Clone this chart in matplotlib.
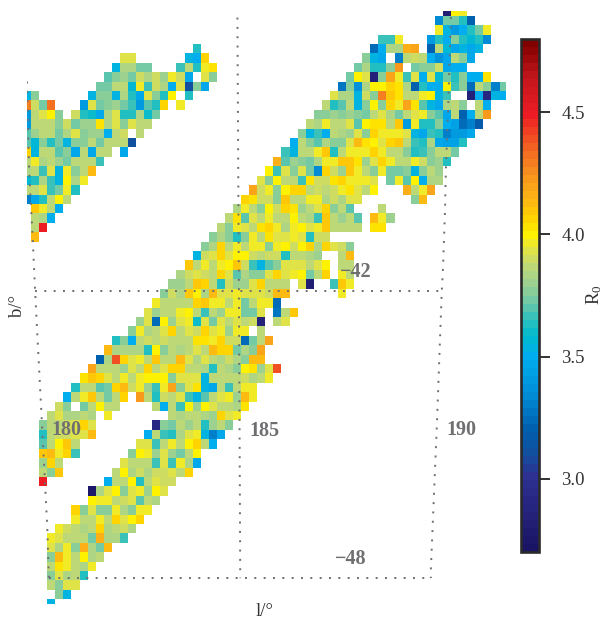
'''
Map of the R0 ratio on the sky in galactic coordinates, 0.2 deg bins
'''

import numpy as np
import matplotlib
matplotlib.use('Agg')
import matplotlib.pyplot as plt
from matplotlib.colors import LinearSegmentedColormap, Normalize

plt.rcParams['font.family'] = ['Liberation Serif', 'DejaVu Serif']
plt.rcParams['mathtext.fontset'] = 'custom'
plt.rcParams['mathtext.rm'] = 'Liberation Serif'
plt.rcParams['mathtext.default'] = 'rm'

# ========================================================================
# data: (row from the top, first column, R0 values going right)
# ========================================================================
segments = [
    (-1, 51, [2.8, 4.0, 3.95]),
    (0, 50, [3.35, 3.72, 3.72, 3.65, 3.2]),
    (1, 50, [3.95, 3.55, 3.42, 3.52, 3.62, 3.72, 3.97]),
    (2, 43, [3.68, 3.68, 3.97]),
    (2, 49, [3.4, 3.62, 3.52, 3.77, 3.62, 3.58, 3.62, 3.35]),
    (3, 20, [3.63]),
    (3, 42, [3.25, 3.52, 3.82, 3.82, 4.15, 4.18]),
    (3, 49, [3.2, 3.87, 3.58, 3.48, 3.55, 3.48, 3.55]),
    (4, 11, [3.92, 3.92]),
    (4, 19, [3.55, 3.52, 4.05]),
    (4, 41, [3.78, 3.55, 3.48]),
    (4, 45, [3.32, 3.87, 3.9, 3.88, 3.5, 3.38, 3.48, 3.87, 3.78, 3.48]),
    (5, 10, [3.55, 3.82, 3.82, 3.72, 3.72]),
    (5, 18, [3.68, 3.88, 3.65, 3.97, 4.02]),
    (5, 40, [3.73, 3.82, 3.62, 3.62, 3.75, 4.22]),
    (5, 47, [3.72, 3.77, 3.75, 3.9, 3.48, 3.52, 3.52]),
    (6, 9, [3.7, 3.77, 3.8, 3.72, 3.9, 3.82, 3.9, 3.8, 3.96, 3.9, 3.48]),
    (6, 21, [3.93, 3.75]),
    (6, 39, [3.72, 4.0, 3.92, 2.85, 3.75, 4.2, 3.95, 3.68, 3.92, 3.5, 3.93, 3.57, 3.72, 3.62, 3.77, 3.5, 3.5, 4.02]),
    (7, 8, [3.72, 3.72, 3.88, 3.88, 3.58, 3.95, 3.68, 3.9, 3.82, 3.52, 3.92, 3.1, 3.78, 3.48]),
    (7, 38, [3.28, 3.78, 3.38, 3.82, 3.98, 3.98, 4.06, 4.02, 3.82, 3.22, 3.62, 3.5, 3.5, 4.0, 3.68, 3.75, 3.25, 3.87, 3.75, 3.3, 3.72]),
    (8, -1, [3.55, 3.78]),
    (8, 7, [3.55, 3.75, 3.78, 3.55, 3.82, 3.62, 3.48, 3.92, 3.78, 3.62, 4.0]),
    (8, 19, [3.62]),
    (8, 37, [3.92, 3.83, 3.83, 3.55, 3.9, 3.75, 4.3, 4.1, 4.02, 3.88, 3.88, 3.95, 3.98, 3.55, 3.68]),
    (8, 54, [2.85, 3.5, 2.9, 3.55, 3.5]),
    (9, -1, [4.3, 3.9, 3.72, 4.32]),
    (9, 6, [3.42, 3.93, 3.72, 3.77, 3.8, 3.72, 3.68, 3.42, 3.7, 3.63, 4.07]),
    (9, 18, [3.97]),
    (9, 36, [3.85, 3.62, 3.7, 3.87, 3.55, 3.75, 3.98, 3.77, 4.05, 3.95, 4.2, 4.02, 3.7, 3.55, 3.48, 3.82, 3.87, 3.75]),
    (9, 55, [3.88, 3.5]),
    (10, -1, [3.4, 3.87, 3.93, 4.0, 3.77]),
    (10, 5, [3.9, 3.65, 3.6, 3.48, 3.83, 3.92, 3.62, 3.65, 3.82, 3.6, 3.72]),
    (10, 35, [3.77, 3.77, 3.8, 3.75, 3.8, 3.75, 3.72, 3.87, 3.92, 3.82, 3.72, 3.87, 3.92, 3.97, 3.77, 3.7, 3.48, 3.87, 3.2, 3.5, 3.88, 4.22]),
    (11, -1, [3.4, 3.85, 3.85, 3.85, 3.75, 3.9, 3.72, 3.8, 3.8, 4.02, 3.83, 3.92, 3.75, 3.92, 3.87, 3.87]),
    (11, 34, [3.87, 3.82, 3.96, 3.85, 3.88, 3.92, 3.7, 4.0, 4.04, 4.04, 3.85, 4.08, 3.4, 3.97, 3.62, 3.65, 3.75, 3.5, 3.45, 3.25, 3.3, 3.18]),
    (12, -1, [3.7, 3.8, 3.88, 3.85, 3.72, 3.82, 3.92, 3.77, 3.8, 3.8, 3.52, 3.87, 3.9]),
    (12, 13, [3.88]),
    (12, 33, [3.75, 3.55, 3.68, 3.5, 3.85, 3.82, 3.8, 3.92, 3.78, 4.06, 3.96, 3.96, 3.96, 3.93, 3.55, 3.48, 3.68, 3.62, 3.3, 3.42, 3.4, 3.48]),
    (13, -1, [3.7, 3.58, 3.75, 3.62, 3.72, 3.55, 3.77, 3.77, 3.87, 3.72, 3.87, 3.87, 3.87, 3.1]),
    (13, 32, [3.52, 3.87, 3.75, 3.7, 3.82, 3.78, 3.78, 3.92, 4.12, 4.02, 3.98, 3.93, 4.05, 4.1, 3.87, 3.68, 3.62, 3.82, 3.48, 3.45, 3.45, 3.62]),
    (14, -1, [4.06, 3.55, 3.88, 3.85, 3.7, 3.77, 3.48, 3.87, 3.48, 3.87, 3.87]),
    (14, 11, [3.48]),
    (14, 31, [3.68, 3.55, 3.86, 3.86, 3.96, 4.08, 3.62, 3.85, 3.97, 3.97, 3.97, 4.05, 3.95, 3.87, 3.87, 3.78, 3.62, 3.68, 3.75, 3.85, 3.85, 3.72]),
    (15, -1, [3.87, 3.97, 3.82, 3.87, 3.8, 3.72, 3.88, 3.88, 3.85, 3.67]),
    (15, 30, [4.15, 3.7, 3.8, 3.78, 3.72, 3.83, 3.97, 3.97, 4.1, 4.1, 4.02, 3.8, 3.92, 4.05, 3.95, 3.85, 3.85, 3.96, 3.9, 3.75, 3.8, 3.65]),
    (16, -1, [3.82, 3.87, 3.68, 3.93, 3.55, 3.97, 3.77, 3.87, 4.13]),
    (16, 29, [4.0, 3.68, 3.92, 3.78, 3.93, 3.72, 3.35, 4.05, 3.9, 3.8, 4.08, 3.95, 3.85, 3.78, 3.96, 3.72, 3.72, 3.77, 3.55, 3.77, 3.87, 3.8]),
    (17, -1, [3.58, 3.63, 3.82, 3.68, 3.55, 3.98, 3.82, 3.96]),
    (17, 28, [3.92, 3.78, 4.0, 3.87, 3.85, 3.68, 4.02, 3.9, 3.9, 4.02, 4.05, 3.96, 3.95, 3.95, 3.92]),
    (17, 44, [3.72, 3.95, 3.7, 3.98, 3.5, 3.83, 3.83]),
    (18, -1, [3.85, 3.88, 3.92, 3.68, 3.72, 3.97, 3.62]),
    (18, 27, [4.18, 3.9, 3.96, 3.77, 3.98, 4.05, 4.05, 3.88, 3.9, 3.85, 3.9, 3.95, 4.02, 3.92, 3.88, 3.98]),
    (18, 46, [4.15, 3.88, 3.96, 4.2]),
    (19, -1, [3.3, 3.48, 3.63, 3.87, 4.0, 3.87]),
    (19, 26, [4.06, 4.02, 3.9, 3.9, 3.77, 4.1, 3.88, 3.85, 3.95, 3.95, 3.82, 3.9, 3.82, 3.92, 3.92]),
    (19, 47, [3.77, 4.13]),
    (20, 0, [4.1, 3.97, 3.87, 3.5]),
    (20, 25, [3.82, 3.97, 3.88, 3.75, 3.98, 3.9, 4.05, 4.02, 3.8, 3.85, 3.93, 4.07, 3.78, 3.88, 3.7]),
    (20, 43, [3.85]),
    (21, 0, [3.87, 3.82, 3.5]),
    (21, 24, [3.88, 4.02, 3.7, 3.93, 3.85, 3.97, 3.88, 3.88, 4.0, 3.87, 3.82, 3.67, 4.1, 3.85, 3.8, 3.88, 3.7]),
    (21, 42, [4.12, 3.96, 3.8]),
    (22, 0, [3.88, 4.5]),
    (22, 23, [3.85, 3.77, 3.97, 3.92, 3.85, 4.02, 4.06, 3.96, 3.82, 3.95, 3.98, 3.93, 3.97, 4.08, 3.85, 3.85, 3.85, 3.85]),
    (22, 42, [4.02, 4.02]),
    (23, 0, [4.13]),
    (23, 22, [3.77, 3.82, 3.78, 3.62, 3.75, 3.97, 3.85, 4.04, 3.92, 3.92, 3.96, 3.92, 3.63, 3.9, 3.9]),
    (24, 21, [3.75, 3.82, 4.05, 3.85, 3.97, 3.85, 3.97, 3.95, 3.75, 3.97, 4.0, 3.9, 4.0, 4.05, 3.83, 4.05, 3.92, 3.9, 3.75]),
    (25, 20, [3.55, 3.9, 3.94, 4.05, 3.92, 4.0, 4.0, 3.9, 3.85, 3.9, 3.9, 3.62, 3.85, 3.85, 3.82, 3.8]),
    (25, 38, [3.88, 4.12]),
    (26, 19, [4.08, 3.88, 3.95, 3.85, 3.97, 4.0, 4.1, 3.9, 3.68, 3.55, 3.7, 3.77, 3.92, 3.94, 3.94, 3.88, 3.92, 4.0]),
    (26, 38, [3.88, 3.85]),
    (27, 18, [3.82, 3.9, 3.92, 3.9, 3.85, 4.05, 3.92, 3.7, 3.82, 3.75, 3.75, 3.92, 4.05, 3.93, 3.95, 4.0, 3.72, 3.87, 4.05]),
    (27, 38, [3.96, 3.85]),
    (28, 17, [3.8, 3.8, 3.85, 4.08, 4.05, 3.85, 3.63, 3.9, 3.8, 3.8, 3.92, 4.05, 3.85, 3.87, 3.87]),
    (28, 33, [3.92, 2.8]),
    (28, 37, [3.68, 4.08, 3.95]),
    (29, 16, [3.78, 3.9, 3.82, 4.1, 4.0, 3.82, 4.12, 3.93, 3.93, 3.97, 3.92, 3.92, 3.92, 3.9, 4.12, 4.12]),
    (29, 38, [3.97]),
    (30, 15, [3.97, 3.87, 3.87, 3.87, 3.85, 4.06, 4.08, 3.97, 3.97, 3.88, 3.97, 3.72, 3.85, 3.95, 3.95, 3.25]),
    (31, 14, [3.92, 3.8, 3.85, 3.85, 3.97, 4.0, 3.88, 3.68, 3.85, 3.8, 3.97, 3.97, 3.72, 3.72, 3.92]),
    (31, 30, [3.28, 3.87, 4.1]),
    (32, 13, [3.8, 3.92, 3.25, 4.0, 3.8, 3.92, 3.95, 3.6, 3.93, 3.72, 3.92, 3.88, 3.93, 3.88, 3.9, 2.85]),
    (32, 30, [3.87, 3.92]),
    (33, 12, [3.77, 3.97, 3.82, 3.85, 3.92, 4.07, 3.85, 3.92, 3.9, 4.06, 3.93, 3.97, 3.8, 3.95, 3.95]),
    (33, 28, [3.85]),
    (34, 10, [3.62, 3.77, 3.52, 3.85, 3.9, 3.85, 3.9, 3.88, 3.85, 3.85, 4.03, 4.02, 3.96, 4.05, 3.9, 3.9, 3.25, 3.72, 3.85, 4.18]),
    (35, 9, [4.12, 3.82, 3.82, 3.82, 3.82, 3.65, 4.0, 3.75, 3.87, 3.82, 3.85, 3.92, 3.87, 4.12, 4.05, 4.05, 3.72, 3.82, 3.78, 4.18]),
    (36, 8, [3.22, 3.82, 4.38, 4.05, 3.92, 3.97, 3.85, 4.08, 3.85, 3.85, 4.12, 3.93, 3.82, 3.92, 3.87, 3.82, 3.9, 3.82, 3.78, 4.12, 4.12]),
    (37, 7, [4.2, 3.88, 3.85, 3.88, 3.8, 3.92, 3.87, 4.05, 3.88, 3.92, 4.07, 4.05, 3.88, 3.85, 3.82, 3.65, 3.85, 3.82, 3.75, 4.0, 4.03, 3.8, 3.92, 4.38]),
    (38, 6, [4.02, 4.1, 4.07, 3.92, 3.85, 3.97, 3.87, 3.97, 4.0, 3.98, 4.0, 3.75, 3.92, 3.92, 3.92, 3.55, 3.85, 3.85, 3.85, 3.85, 3.9, 3.82, 3.87, 3.95]),
    (39, 5, [3.63, 3.85, 3.87, 3.7, 3.72, 4.05, 4.13, 3.9, 3.97, 3.8, 3.68, 3.97, 4.2, 3.78, 3.92, 4.03, 3.55, 3.48, 3.85, 3.68, 3.85, 3.96, 3.97]),
    (40, 4, [3.52, 3.85, 3.95, 4.1, 3.87, 3.72, 3.87, 4.05]),
    (40, 13, [4.22, 3.85, 3.62, 3.9, 3.87, 3.92, 3.68, 3.55, 3.7, 3.88, 3.93, 3.97, 3.8, 4.12, 3.97]),
    (41, 3, [3.9, 3.77]),
    (41, 6, [3.72, 3.87, 3.98, 3.87, 3.87]),
    (41, 15, [3.88, 3.52, 3.88, 3.68, 4.0, 3.8, 3.98, 3.92, 3.85, 3.87, 3.82, 4.02]),
    (42, 2, [3.87, 3.93, 3.83, 3.83, 3.87, 3.82]),
    (42, 9, [3.97]),
    (42, 17, [3.87, 3.83, 3.87, 3.88, 3.82, 3.8, 4.05, 3.92, 3.97]),
    (43, 1, [3.77, 3.87, 3.85, 3.9, 3.92, 4.07, 3.92]),
    (43, 15, [2.9, 3.77, 3.72, 3.87, 3.8, 3.85, 3.62, 3.8, 3.87, 3.77]),
    (44, 1, [3.63, 3.87, 3.9, 3.9, 3.92, 3.93, 4.13]),
    (44, 14, [3.52, 3.85, 3.68, 3.62, 3.82, 3.92, 3.97, 3.55, 3.32, 3.48]),
    (45, 1, [3.7, 3.85, 4.0, 4.08, 3.88]),
    (45, 13, [3.92, 3.92, 3.68, 3.85, 3.97, 3.87, 4.0, 4.05, 3.87, 3.5]),
    (46, 1, [4.08, 4.13, 3.95, 4.05, 3.68]),
    (46, 12, [3.75, 4.0, 3.97, 3.8, 3.92, 3.8, 3.72, 3.87, 3.98]),
    (47, 1, [3.8, 4.05, 3.88]),
    (47, 11, [3.92, 3.85, 3.85, 3.85, 3.68, 3.92, 3.68, 3.97, 3.82, 3.48]),
    (48, 1, [3.87, 3.75, 4.08]),
    (48, 10, [3.87, 3.98, 3.83, 3.9, 3.82, 3.9, 3.9, 3.93, 3.88, 4.07]),
    (49, 1, [4.5]),
    (49, 9, [3.52, 3.88, 3.85, 3.98, 3.62, 3.85, 3.92, 3.9, 3.9]),
    (50, 7, [2.75, 3.82, 3.92, 4.0, 3.77, 3.92, 3.96, 3.8, 3.98, 3.92]),
    (51, 7, [3.98, 3.95, 3.97, 3.85, 3.9, 3.92, 3.7, 3.85, 3.82]),
    (52, 5, [4.05, 3.75, 3.92, 3.75, 3.75, 3.95, 3.83, 3.78, 3.95, 3.97]),
    (53, 5, [3.95, 3.88, 3.88, 3.95, 3.85, 4.07, 3.92, 4.0, 4.05]),
    (54, 3, [3.95, 3.9, 3.87, 3.82, 3.87, 4.07, 3.82, 3.85, 3.9, 3.83]),
    (55, 2, [3.95, 3.92, 3.88, 3.85, 3.85, 3.72, 4.15, 3.82, 3.82, 3.67]),
    (56, 2, [3.92, 3.82, 3.95, 3.78, 4.15, 3.82, 3.73, 4.12]),
    (57, 2, [3.77, 4.13, 3.95, 3.88, 4.0, 3.83, 3.85]),
    (58, 2, [3.85, 4.02, 3.95, 3.87, 3.83, 3.95]),
    (59, 2, [3.75, 3.92, 3.83, 3.88, 3.63]),
    (60, 2, [3.85, 3.77, 3.92, 3.92]),
    (61, 3, [3.77, 3.55]),
    (62, 2, [3.55]),
]

# graticule (degrees)
l180_l = [179.74, 179.79, 179.89, 179.94, 180.24, 180.28]
l180_b = [-37.55, -39.40, -41.04, -41.99, -46.98, -48.10]
l185_l = [184.95, 184.98, 185.00, 185.02]
l185_b = [-36.19, -41.00, -44.39, -48.10]
l190_l = [190.235, 190.17, 190.11, 190.09, 190.04, 190.01, 189.89, 189.74, 189.74]
l190_b = [-36.18, -38.05, -39.47, -40.28, -41.51, -42.00, -44.81, -47.91, -48.10]
b42_l = [179.94, 190.01]
b42_b = [-42.0, -42.0]
b48_l = [180.28, 189.74]
b48_b = [-48.1, -48.1]

cbar_ticks = [3.0, 3.5, 4.0, 4.5]
grid_text = [('180', 66, 430), ('185', 264, 431), ('190', 461, 430),
             ('\u221242', 356, 272), ('\u221248', 351, 559)]

# plot definitions
width, height = 604, 621
vmin, vmax = 2.70, 4.80
grid_grey = '#6e6e70'
colors = [(2.70, '#1a1464'), (3.00, '#2e3192'), (3.10, '#10509f'), (3.20, '#0060b0'),
          (3.35, '#0090d8'), (3.50, '#00aeef'), (3.58, '#00b9ce'), (3.65, '#2bbfbe'),
          (3.72, '#6cc8a8'), (3.80, '#9dd18f'), (3.88, '#c3da72'), (3.95, '#e8e63a'),
          (4.00, '#fff200'), (4.07, '#ffd200'), (4.15, '#fdb515'), (4.25, '#f7931e'),
          (4.35, '#f36a21'), (4.50, '#ed1c24'), (4.65, '#c4161c'), (4.80, '#800000')]

cmap = LinearSegmentedColormap.from_list(
    'r0', [((v - vmin) / (vmax - vmin), c) for v, c in colors], N=64)

# ========================================================================
# bin the values
# ========================================================================
bin_size = 0.2
l_start = 179.84 - bin_size   # left edge of column -1
b_start = -36.15 + bin_size   # top edge of row -1
ncol, nrow = 60, 64

r0 = np.full((nrow, ncol), np.nan)
for row, col, values in segments:
    r0[row + 1, col + 1:col + 1 + len(values)] = values
r0 = np.ma.masked_invalid(r0)

l_edges = l_start + bin_size * np.arange(ncol + 1)
b_edges = b_start - bin_size * np.arange(nrow + 1)

# ========================================================================
# plot
# ========================================================================
fig = plt.figure(figsize=(width / 100, height / 100), dpi=100)
ax = fig.add_axes([27 / width, (height - 604) / height, 479 / width, 593 / height])
mesh = ax.pcolormesh(l_edges, b_edges, r0, cmap=cmap,
                     norm=Normalize(vmin, vmax), linewidth=0, rasterized=True)
ax.set_xlim(179.74, 191.6)
ax.set_ylim(-48.65, -36.05)
ax.axis('off')

# dotted graticule
dots = (0, (1, 3.8))
for x, y in [(l180_l, l180_b), (l185_l, l185_b), (l190_l, l190_b),
             (b42_l, b42_b), (b48_l, b48_b)]:
    ax.plot(x, y, color=grid_grey, linewidth=1.4, linestyle=dots, zorder=3)

for label, px, py in grid_text:
    fig.text(px / width, 1 - py / height, label, color='#6f6f72', fontsize=14.5,
             fontweight='bold', ha='center', va='center', zorder=5)

# colorbar
cax = fig.add_axes([521 / width, (height - 552) / height, 18 / width, 513 / height])
cbar = fig.colorbar(mesh, cax=cax, ticks=cbar_ticks)
cbar.ax.set_yticklabels(['%.1f' % t for t in cbar_ticks])
cbar.ax.tick_params(length=8, width=1.3, color='#222222', labelsize=13.5,
                    labelcolor='#333333', pad=8)
cbar.outline.set_linewidth(1.9)
cbar.outline.set_edgecolor('#2a2a2a')

# axis labels
fig.text(594 / width, 1 - 295 / height, 'R$_0$', rotation=90, fontsize=13.5,
         color='#333333', ha='center', va='center')
fig.text(17 / width, 1 - 306 / height, 'b/\u00b0', rotation=90, fontsize=13.5,
         color='#333333', ha='center', va='center')
fig.text(265 / width, 1 - 612 / height, 'l/\u00b0', fontsize=13.5,
         color='#333333', ha='center', va='center')

fig.savefig('out.png', dpi=100)
